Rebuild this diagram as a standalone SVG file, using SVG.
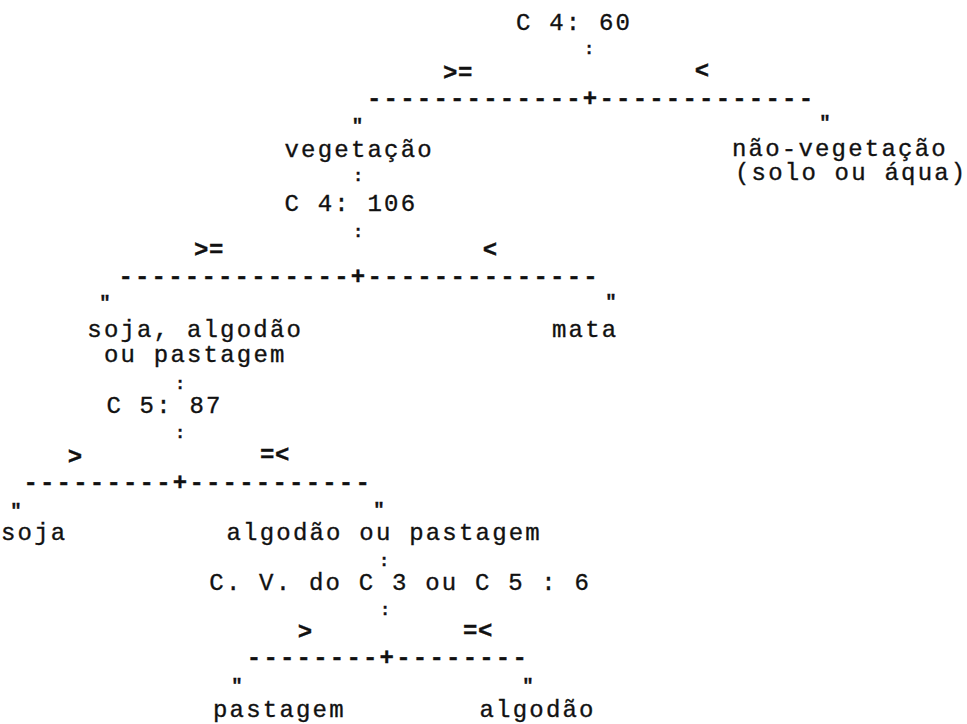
<svg xmlns="http://www.w3.org/2000/svg" width="967" height="724" viewBox="0 0 967 724">
<style>
  text { font-family: "Liberation Mono", "DejaVu Sans Mono", monospace; font-size: 24px; fill: #111; stroke: #111; stroke-width: 0.35px; letter-spacing: 2.2px; }
  .c { text-anchor: middle; letter-spacing: 0; font-size: 17px; font-weight: bold; }
  .d { font-weight: bold; }
  .q { font-weight: bold; text-anchor: middle; letter-spacing: 0; font-size: 19px; }
  .s { font-weight: bold; letter-spacing: 0.5px; }
  .m { font-weight: bold; text-anchor: middle; letter-spacing: 0; }
</style>
<rect width="967" height="724" fill="#fff"/>

<g id="n_c4_60"><text x="516" y="30">C 4: 60</text></g>
<g id="n_vegetacao">
  <text x="284.5" y="157">vegetação</text>
  <text x="284.5" y="211">C 4: 106</text>
</g>
<g id="n_nao_vegetacao">
  <text x="732" y="156">não-vegetação</text>
  <text x="735" y="180">(solo ou áqua)</text>
</g>
<g id="n_soja_algodao_pastagem">
  <text x="87.3" y="337">soja, algodão</text>
  <text x="104" y="362">ou pastagem</text>
  <text x="106.4" y="413">C 5: 87</text>
</g>
<g id="n_mata"><text x="552" y="337">mata</text></g>
<g id="n_soja"><text x="1" y="540">soja</text></g>
<g id="n_algodao_pastagem">
  <text x="226.5" y="540">algodão ou pastagem</text>
  <text x="209.3" y="590">C. V. do C 3 ou C 5 : 6</text>
</g>
<g id="n_pastagem"><text x="213" y="717">pastagem</text></g>
<g id="n_algodao"><text x="479.5" y="717">algodão</text></g>

<g id="connectors">
  <!-- level 1 -->
  <text class="c" x="589" y="54">:</text>
  <text class="s" x="443" y="80">&gt;=</text>
  <text class="m" x="702" y="78">&lt;</text>
  <text class="d" x="367" y="106">-------------+-------------</text>
  <text class="q" x="357.5" y="131">"</text>
  <text class="q" x="825" y="128">"</text>
  <!-- level 2 -->
  <text class="c" x="358" y="181">:</text>
  <text class="c" x="358" y="237">:</text>
  <text class="s" x="194" y="257">&gt;=</text>
  <text class="m" x="490" y="257">&lt;</text>
  <text class="d" x="118.4" y="284">--------------+--------------</text>
  <text class="q" x="105" y="308">"</text>
  <text class="q" x="611" y="307">"</text>
  <!-- level 3 -->
  <text class="c" x="180" y="389">:</text>
  <text class="c" x="180" y="438">:</text>
  <text class="m" x="75" y="464">&gt;</text>
  <text class="s" x="260" y="462">=&lt;</text>
  <text class="d" x="23.4" y="490">---------+-----------</text>
  <text class="q" x="16" y="516">"</text>
  <text class="q" x="379" y="515">"</text>
  <!-- level 4 -->
  <text class="c" x="384" y="566">:</text>
  <text class="c" x="385" y="615">:</text>
  <text class="m" x="305" y="639">&gt;</text>
  <text class="s" x="463" y="638">=&lt;</text>
  <text class="d" x="246.8" y="665">--------+--------</text>
  <text class="q" x="237" y="691">"</text>
  <text class="q" x="528" y="691">"</text>
</g>
</svg>
